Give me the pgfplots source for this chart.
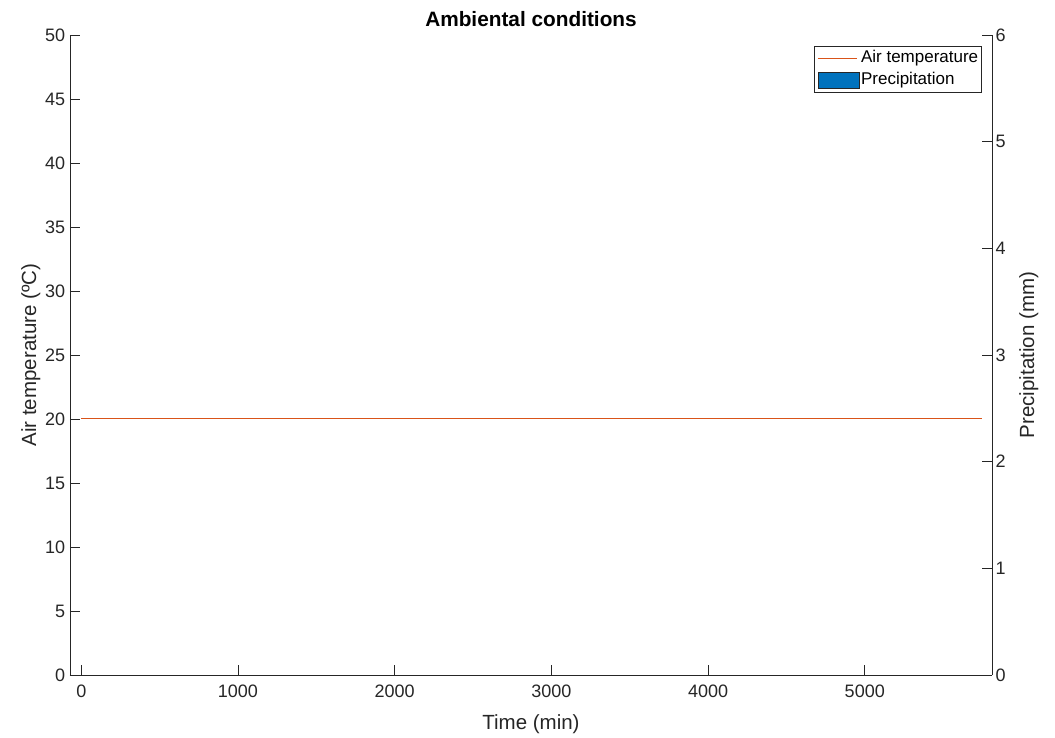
\documentclass[border=0pt]{standalone}
\usepackage{fontspec}
\setmainfont{Liberation Sans}
\usepackage{pgfplots}
\pgfplotsset{compat=1.18}
\definecolor{mlorange}{rgb}{0.85,0.325,0.098}
\definecolor{mlblue}{rgb}{0,0.447,0.741}
\definecolor{axgray}{rgb}{0.15,0.15,0.15}

\pgfplotstableread{
t temp
0 20
5745 20
}\temptable

\pgfplotstableread{
t prec
0 0
1440 0
2880 0
4320 0
5745 0
}\prectable

\begin{document}
\begin{tikzpicture}[x=1pt,y=1pt]
\useasboundingbox (0,0) rectangle (1055,738);
\pgfplotsset{
  common/.style={
    at={(70pt,63pt)}, anchor=south west,
    width=922pt, height=640pt, scale only axis,
    xmin=-72, xmax=5812,
    tick align=inside, major tick length=10pt,
    font=\fontsize{18}{20}\selectfont,
    /pgf/number format/assume math mode=true,
    /pgf/number format/1000 sep={},
    every tick/.style={axgray, line width=0.8pt},
    axis line style={axgray, line width=0.9pt},
    tick label style={text=axgray},
    label style={font=\fontsize{20.5}{22}\selectfont, text=axgray},
  }
}
\begin{axis}[common,
  axis x line*=bottom, axis y line*=left,
  ymin=0, ymax=50, ytick={0,5,...,50},
  xtick={0,1000,...,5000},
  xticklabel style={yshift=-6pt},
  yticklabel style={xshift=-1.3pt},
  xlabel={Time (min)},
  ylabel={Air temperature (ºC)},
  xlabel style={at={(axis description cs:0.5,0)}, anchor=base, yshift=-55pt},
  ylabel style={at={([xshift=-34pt]axis description cs:0,0.5)}, anchor=base},
  title={Ambiental conditions},
  title style={font=\bfseries\fontsize{20.8}{22}\selectfont, at={(axis description cs:0.5,1)}, anchor=base, yshift=2pt},
]
\addplot[mlorange, line width=1pt] table[x=t, y=temp] {\temptable};
\end{axis}
\begin{axis}[common,
  axis y line*=right, axis x line=none,
  ymin=0, ymax=6, ytick={0,1,...,6},
  ylabel={Precipitation (mm)},
  ylabel style={at={([xshift=42pt]axis description cs:1,0.5)}, anchor=base},
  legend style={at={(1,1)}, anchor=north east, xshift=-10pt, yshift=-11pt,
    font=\fontsize{17}{17}\selectfont, draw=axgray, line width=0.6pt,
    inner xsep=3pt, inner ysep=3pt, row sep=5pt, column sep=1pt,
    nodes={inner sep=0.5pt, text height=12.5pt, text depth=4pt}},
  legend cell align=left,
]
\addlegendimage{legend image code/.code={\draw[mlorange, line width=1pt] (0pt,0pt) -- (39pt,0pt);}}
\addlegendentry{Air temperature}
\addlegendimage{legend image code/.code={\draw[fill=mlblue, draw=axgray, line width=0.6pt] (0pt,-8pt) rectangle (41pt,8pt);}}
\addlegendentry{Precipitation}
\addplot[ybar, bar width=20pt, fill=mlblue, draw=none, forget plot,
  unbounded coords=discard, y filter/.expression={y>0 ? y : nan}]
  table[x=t, y=prec] {\prectable};
\end{axis}
\end{tikzpicture}
\end{document}
